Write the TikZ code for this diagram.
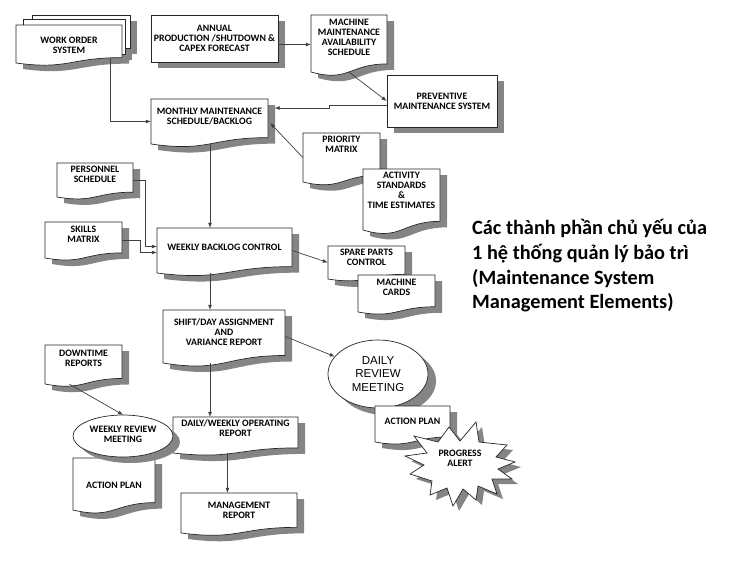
\documentclass[tikz,border=0pt]{standalone}
\usepackage{fontspec}
\setmainfont{Carlito}
\newfontfamily\arialf{Liberation Sans}
\usetikzlibrary{arrows.meta,shapes.geometric}
\tikzset{
 shadowc/.style={fill=black!48},
 shp/.style={draw=black!85, line width=0.7pt, fill=white},
 frame/.style={inner sep=0pt, draw=none},
 lbl/.style={font=\fontsize{9.8}{10}\selectfont\bfseries, align=center, inner sep=0pt},
 arr/.style={draw=black!75, line width=0.7pt, -{Latex[length=5pt,width=4pt]}},
 title/.style={font=\fontsize{20.3}{24.8}\selectfont\bfseries, align=left, inner sep=0pt, anchor=north west},
 meet/.style={ellipse, shp, inner sep=0pt, align=center},
}
\newcommand{\doccalc}[4]{%
 \pgfmathsetmacro{\dcH}{(#4-#2)/0.934}%
 \pgfmathsetmacro{\dcYr}{#2+0.802*\dcH}%
 \pgfmathsetmacro{\dcYc}{#2+1.107*\dcH}%
 \pgfmathsetmacro{\dcXm}{(#1+#3)/2}}
\newcommand{\docshadow}[4]{\doccalc{#1}{#2}{#3}{#4}%
 \fill[shadowc,shift={(7,6)}] (#1,#2) -- (#3,#2) -- (#3,\dcYr) .. controls (\dcXm,\dcYr) and (\dcXm,\dcYc) .. (#1,#4) -- cycle;}
\newcommand{\docbody}[4]{\doccalc{#1}{#2}{#3}{#4}%
 \filldraw[shp] (#1,#2) -- (#3,#2) -- (#3,\dcYr) .. controls (\dcXm,\dcYr) and (\dcXm,\dcYc) .. (#1,#4) -- cycle;}
\newcommand{\docnode}[7]{%
 \pgfmathsetmacro{\dcW}{#4-#2}\pgfmathsetmacro{\dcHt}{#5-#3}%
 \pgfmathsetmacro{\dcX}{(#2+#4)/2}\pgfmathsetmacro{\dcY}{(#3+#5)/2}%
 \node[frame,minimum width=\dcW pt,minimum height=\dcHt pt] (#1) at (\dcX,\dcY) {};
 \node[lbl] (#1-t) at (\dcX,#6) {#7};}
\newcommand{\docbox}[7]{\docshadow{#2}{#3}{#4}{#5}\docbody{#2}{#3}{#4}{#5}\docnode{#1}{#2}{#3}{#4}{#5}{#6}{#7}}
\newcommand{\rectbox}[6]{%
 \fill[shadowc,shift={(7,6)}] (#2,#3) rectangle (#4,#5);
 \pgfmathsetmacro{\dcW}{#4-#2}\pgfmathsetmacro{\dcHt}{#5-#3}%
 \pgfmathsetmacro{\dcX}{(#2+#4)/2}\pgfmathsetmacro{\dcY}{(#3+#5)/2}%
 \node[shp,lbl,minimum width=\dcW pt,minimum height=\dcHt pt] (#1) at (\dcX,\dcY) {#6};}
\begin{document}
\begin{tikzpicture}[x=1pt,y=-1pt]
\useasboundingbox (0,0) rectangle (750,562);
\fill[white] (0,0) rectangle (750,562);

% work order stack
\fill[shadowc,shift={(7,6)}] (32,15) rectangle (130,48);
\fill[shadowc,shift={(7,6)}] (23,19) rectangle (125,54);
\docshadow{16}{25}{122}{63}
\filldraw[shp] (32,15) rectangle (130,48);
\filldraw[shp] (23,19) rectangle (125,54);
\docbody{16}{25}{122}{63}
\docnode{wo}{16}{25}{122}{63}{45}{WORK ORDER\\SYSTEM}

\rectbox{annual}{151}{15}{278}{62}{ANNUAL\\PRODUCTION /SHUTDOWN \&\\CAPEX FORECAST}
\docbox{mmas}{311}{15}{387}{72}{37}{MACHINE\\MAINTENANCE\\AVAILABILITY\\SCHEDULE}
\rectbox{pms}{387}{75}{497}{127}{PREVENTIVE\\MAINTENANCE SYSTEM}
\docbox{monthly}{151}{99}{268}{144}{117}{MONTHLY MAINTENANCE\\SCHEDULE/BACKLOG}
\docbox{priority}{303}{133}{380}{182}{144}{PRIORITY\\MATRIX}
\docbox{activity}{363}{169}{440}{230}{190}{ACTIVITY\\STANDARDS\\\&\\TIME ESTIMATES}
\docbox{personnel}{57}{163}{133}{197}{174}{PERSONNEL\\SCHEDULE}
\docbox{skills}{45}{222}{122}{258}{234}{SKILLS\\MATRIX}
\docbox{weekly}{157}{228}{292}{273}{247}{WEEKLY BACKLOG CONTROL}
\docbox{spare}{328}{246}{405}{279}{257}{SPARE PARTS\\CONTROL}
\docbox{cards}{358}{275}{435}{312}{287}{MACHINE\\CARDS}
\docbox{shift}{163}{310}{285}{363}{332}{SHIFT/DAY ASSIGNMENT\\AND\\VARIANCE REPORT}

\fill[shadowc] (386,381) ellipse [x radius=50, y radius=34];
\node[meet, minimum width=100pt, minimum height=68pt, font=\arialf\fontsize{11.5}{13.5}\selectfont] (dreview) at (378,374) {DAILY\\REVIEW\\MEETING};

\docbox{apdaily}{375}{406}{450}{442}{421}{ACTION PLAN}

\filldraw[shp, preaction={fill=black!48, transform canvas={shift={(6pt,-5pt)}}}]
 (405,456) -- (427,453) -- (414,436) -- (438,442) -- (449,427) -- (460,441) -- (476,422) -- (479,442)
 -- (507,445) -- (496,457) -- (515,462) -- (498,469) -- (512,479) -- (492,479) -- (497,494) -- (478,486)
 -- (476,500) -- (463,489) -- (453,506) -- (447,488) -- (430,495) -- (432,481) -- (410,474) -- (424,465) -- cycle;
\node[lbl] (alert) at (460,458) {PROGRESS\\ALERT};

\docbox{downtime}{45}{345}{122}{384}{358}{DOWNTIME\\REPORTS}
\docbox{apweek}{73}{458}{155}{510}{485}{ACTION PLAN}
\docbox{report}{173}{417}{298}{453}{428}{DAILY/WEEKLY OPERATING\\REPORT}
\fill[shadowc] (130,442) ellipse [x radius=50, y radius=21];
\filldraw[shp] (123,436) ellipse [x radius=50, y radius=21];
\node[frame, ellipse, minimum width=100pt, minimum height=42pt] (wreview) at (123,436) {};
\node[lbl] (wreview-t) at (123,434) {WEEKLY REVIEW\\MEETING};
\docbox{mgmt}{181}{493}{297}{533}{510}{MANAGEMENT\\REPORT}

\node[title] (title) at (472,219) {Các thành phần chủ yếu của\\1 hệ thống quản lý bảo trì\\(Maintenance System\\Management Elements)};

% connectors
\coordinate (trunk) at (210,0);
\draw[arr] ([xshift=-12pt,yshift=5pt]wo.south east) |- (monthly.west);
\coordinate (a1) at ([yshift=-6pt]annual.east);
\draw[arr] (a1) -- (a1 -| mmas.west);
\draw[arr] (mmas.south) -- (pms.west);
\draw[arr] ([yshift=-4pt]pms.west) -- ++(-57,0) -- ++(0,3) -- ++(-55,0);
\draw[arr] (priority.west) -- ([xshift=2pt,yshift=-1.5pt]monthly.east);
\draw[arr] (trunk |- monthly.south) -- (trunk |- weekly.north);
\draw[arr] (personnel.east) -- ++(12,0) |- ([yshift=4pt]weekly.west);
\draw[arr] (skills.east) -- ++(18,0) |- ([yshift=-2pt]weekly.west);
\draw[arr] (weekly.east) -- (spare.west);
\draw[arr] (trunk |- weekly.south) -- (trunk |- shift.north);
\draw[arr] (shift.east) -- (dreview);
\draw[arr] (trunk |- shift.south) -- (trunk |- report.north);
\draw[arr] ([xshift=-14pt]downtime.south) -- (wreview.north);
\coordinate (r1) at ([xshift=-8pt]report.south);
\draw[arr] (r1) -- (r1 |- mgmt.north);
\end{tikzpicture}
\end{document}
